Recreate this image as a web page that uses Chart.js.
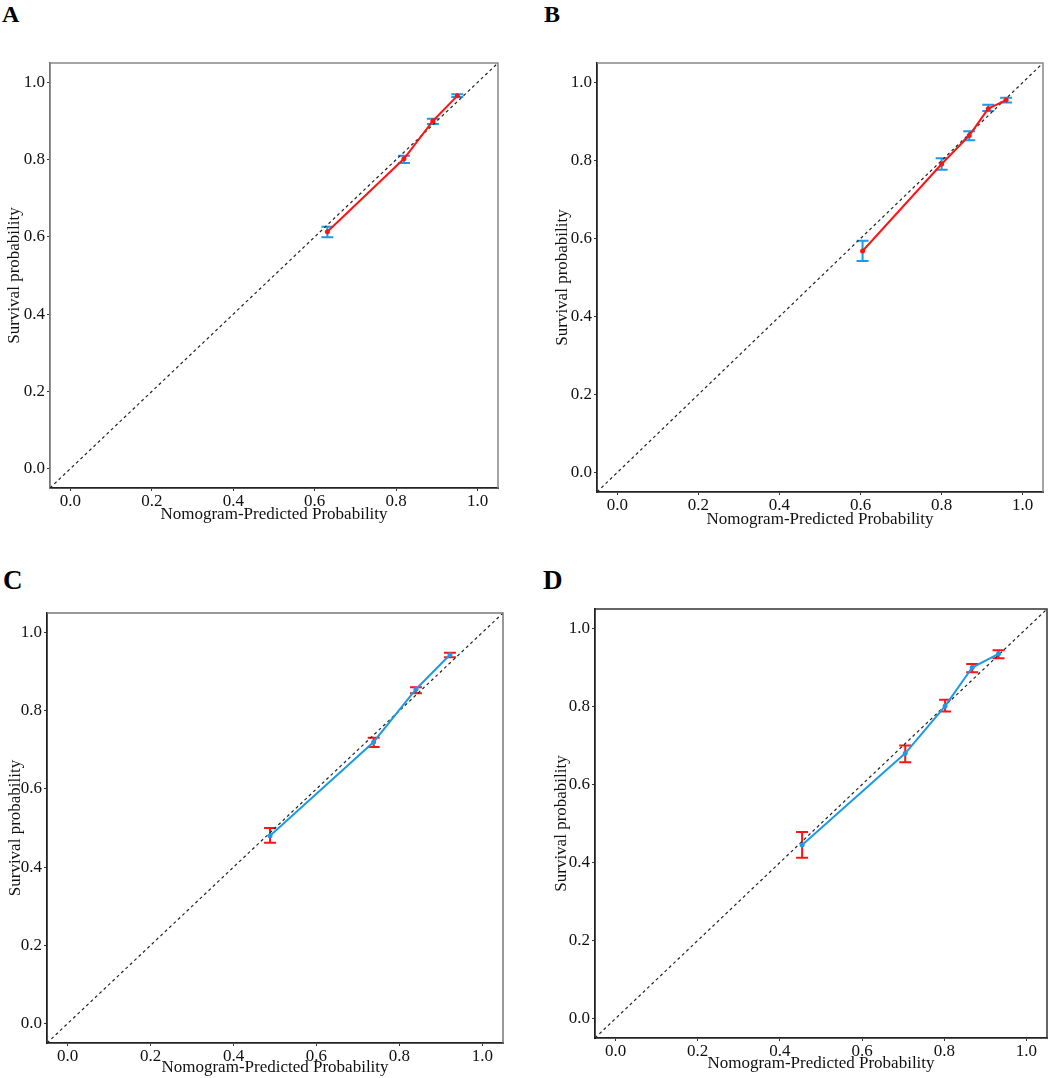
<!DOCTYPE html>
<html><head><meta charset="utf-8">
<script src="https://cdn.jsdelivr.net/npm/chart.js@4.4.0/dist/chart.umd.min.js"></script>
<style>
html,body{margin:0;padding:0;background:#fff;}
body{width:1052px;height:1078px;position:relative;overflow:hidden;}
canvas{position:absolute;}
.lbl{position:absolute;font-family:"Liberation Serif",serif;font-weight:bold;line-height:1;color:#000;}
</style></head><body>
<div class="lbl" style="left:2px;top:2px;font-size:24px">A</div>
<div class="lbl" style="left:544px;top:2px;font-size:24px">B</div>
<div class="lbl" style="left:3px;top:567px;font-size:27px">C</div>
<div class="lbl" style="left:543px;top:567px;font-size:27px">D</div>
<canvas id="cA" width="526" height="539" style="left:0;top:0"></canvas>
<canvas id="cB" width="526" height="539" style="left:526px;top:0"></canvas>
<canvas id="cC" width="526" height="539" style="left:0;top:539px"></canvas>
<canvas id="cD" width="526" height="539" style="left:526px;top:539px"></canvas>
<script>
// ---- data ----
const tickValues = [0.0, 0.2, 0.4, 0.6, 0.8, 1.0];
const axisRange = [-0.05, 1.05];
const diagonal = [-0.05, 1.05];
const xTitle = "Nomogram-Predicted Probability";
const yTitle = "Survival probability";

const aPred = [0.631, 0.819, 0.890, 0.950];
const aObs  = [0.613, 0.802, 0.900, 0.965];
const aLow  = [0.599, 0.791, 0.892, 0.962];
const aHigh = [0.626, 0.810, 0.906, 0.969];

const bPred = [0.605, 0.800, 0.868, 0.915, 0.959];
const bObs  = [0.568, 0.791, 0.864, 0.933, 0.955];
const bLow  = [0.542, 0.776, 0.852, 0.927, 0.949];
const bHigh = [0.594, 0.806, 0.875, 0.943, 0.961];

const cPred = [0.488, 0.738, 0.840, 0.922];
const cObs  = [0.480, 0.720, 0.855, 0.943];
const cLow  = [0.462, 0.707, 0.845, 0.937];
const cHigh = [0.500, 0.731, 0.860, 0.948];

const dPred = [0.454, 0.705, 0.802, 0.868, 0.932];
const dObs  = [0.445, 0.680, 0.801, 0.900, 0.935];
const dLow  = [0.412, 0.657, 0.787, 0.888, 0.924];
const dHigh = [0.478, 0.700, 0.817, 0.909, 0.944];

const RED = '#FF1414';
const BLUE = '#1C9AE6';

// ---- plugins ----
const errorBars = {
  id: 'errorBars',
  beforeDatasetsDraw(chart, args, o) {
    const {ctx, scales: {x, y}} = chart;
    ctx.save();
    ctx.strokeStyle = o.color;
    ctx.lineWidth = 2;
    o.pred.forEach((p, i) => {
      const px = x.getPixelForValue(p);
      const y1 = y.getPixelForValue(o.low[i]);
      const y2 = y.getPixelForValue(o.high[i]);
      ctx.beginPath();
      ctx.moveTo(px, y1); ctx.lineTo(px, y2);
      ctx.moveTo(px - 6, y1); ctx.lineTo(px + 6, y1);
      ctx.moveTo(px - 6, y2); ctx.lineTo(px + 6, y2);
      ctx.stroke();
    });
    ctx.restore();
  }
};
const frame = {
  id: 'frame',
  afterDraw(chart, args, o) {
    const {ctx, chartArea: a} = chart;
    ctx.save();
    ctx.strokeStyle = o.color || '#777';
    ctx.lineWidth = 1.5;
    ctx.beginPath();
    ctx.moveTo(a.left, a.top); ctx.lineTo(a.right, a.top); ctx.lineTo(a.right, a.bottom);
    ctx.stroke();
    ctx.restore();
  }
};

function makeChart(id, pred, obs, low, high, lineColor, barColor, g) {
  const font = {family: '"Liberation Serif", serif', size: 17};
  const tfont = {family: '"Liberation Serif", serif', size: 17};
  new Chart(document.getElementById(id), {
    type: 'scatter',
    data: {
      datasets: [
        {
          data: diagonal.map(v => ({x: v, y: v})),
          showLine: true, borderColor: '#222', borderWidth: 1.2, borderDash: [3, 3],
          pointRadius: 0, order: 2
        },
        {
          data: pred.map((p, i) => ({x: p, y: obs[i]})),
          showLine: true, borderColor: lineColor, borderWidth: 2,
          pointRadius: 2.5, pointBackgroundColor: lineColor, pointBorderColor: lineColor,
          pointBorderWidth: 0, order: 1
        }
      ]
    },
    options: {
      responsive: false, animation: false, devicePixelRatio: 1,
      layout: {padding: {left: g.pl, right: g.pr, top: g.pt, bottom: 0}},
      plugins: {
        legend: {display: false}, tooltip: {enabled: false},
        errorBars: {pred, low, high, color: barColor},
        frame: {color: g.frame}
      },
      scales: {
        x: {
          type: 'linear', min: axisRange[0], max: axisRange[1],
          afterFit: s => { s.height = g.xh; },
          afterBuildTicks: s => { s.ticks = tickValues.map(v => ({value: v})); },
          ticks: {font, color: '#111', padding: 0, maxRotation: 0, callback: v => v.toFixed(1)},
          grid: {drawOnChartArea: false, drawTicks: true, tickLength: 3, color: '#333'},
          border: {display: true, color: '#222', width: 1.8},
          title: {display: true, text: xTitle, font: tfont, color: '#111', padding: {top: 0, bottom: g.xtp}}
        },
        y: {
          type: 'linear', min: axisRange[0], max: axisRange[1],
          afterFit: s => { s.width = g.yw; },
          afterBuildTicks: s => { s.ticks = tickValues.map(v => ({value: v})); },
          ticks: {font, color: '#111', padding: 2, callback: v => v.toFixed(1)},
          grid: {drawOnChartArea: false, drawTicks: true, tickLength: 3, color: '#333'},
          border: {display: true, color: g.ycol, width: 1.8},
          title: {display: true, text: yTitle, font: tfont, color: '#111', padding: {top: g.ytp, bottom: 0}}
        }
      }
    },
    plugins: [errorBars, frame]
  });
}

makeChart('cA', aPred, aObs, aLow, aHigh, RED, BLUE,
  {pl: 0, pr: 28, pt: 63, xh: 51, xtp: 14, yw: 50, ytp: 4, frame: '#888', ycol: '#777'});
makeChart('cB', bPred, bObs, bLow, bHigh, RED, BLUE,
  {pl: 22, pr: 9, pt: 63, xh: 47, xtp: 9, yw: 49, ytp: 4, frame: '#888', ycol: '#222'});
makeChart('cC', cPred, cObs, cLow, cHigh, BLUE, RED,
  {pl: 0, pr: 23, pt: 74, xh: 35, xtp: 0, yw: 47, ytp: 5, frame: '#777', ycol: '#222'});
makeChart('cD', dPred, dObs, dLow, dHigh, BLUE, RED,
  {pl: 22, pr: 5, pt: 70, xh: 40, xtp: 4, yw: 47, ytp: 3, frame: '#333', ycol: '#222'});
</script>
</body></html>
